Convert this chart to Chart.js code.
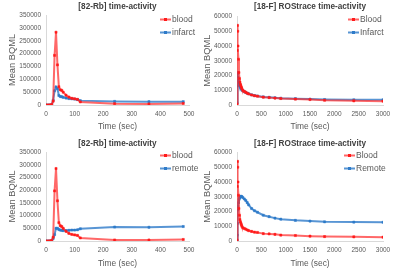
<!DOCTYPE html>
<html>
<head>
  <meta charset="utf-8">
  <title>Time-activity curves</title>
  <script src="https://cdn.jsdelivr.net/npm/chart.js"></script>
  <style>
    body { margin: 0; background: #FFF; }
    .panel { position: absolute; width: 200px; height: 137px; }
  </style>
</head>
<body>
  <div class="panel" style="left:0;top:0"><canvas id="rbInfarct" width="200" height="137"></canvas></div>
  <div class="panel" style="left:200px;top:0"><canvas id="fInfarctChart" width="200" height="137"></canvas></div>
  <div class="panel" style="left:0;top:137px"><canvas id="rbRemote" width="200" height="137"></canvas></div>
  <div class="panel" style="left:200px;top:137px"><canvas id="fRemoteChart" width="200" height="137"></canvas></div>

  <script>
    // [82-Rb] frames (sec)
    const rbTime = [0, 5, 10, 15, 20, 25, 30, 35, 40, 45, 50, 55, 60, 70, 80, 90, 100, 110, 120, 240, 360, 480];
    const rbBloodA = [0, 0, 0, 0, 2000, 15000, 193000, 283000, 156000, 71000, 59000, 57000, 50000, 38000, 31000, 26000, 24000, 22000, 12000, 5000, 4000, 6000];
    const rbInfarct = [0, 0, 0, 0, 1000, 18000, 55000, 70000, 63000, 37000, 33000, 32000, 30000, 27000, 25000, 24000, 23000, 21000, 17000, 14000, 13000, 13000];
    const rbBloodB = [0, 0, 0, 0, 2000, 15000, 197000, 285000, 158000, 72000, 60000, 57000, 50000, 38000, 30000, 26000, 24000, 22000, 12000, 4000, 4000, 6000];
    const rbRemote = [0, 0, 0, 0, 1000, 10000, 25000, 50000, 50000, 45000, 43000, 42000, 41000, 41000, 42000, 43000, 43000, 44000, 48000, 55000, 54000, 57000];

    // [18-F] ROStrace frames (sec)
    const fTime = [0, 5, 10, 15, 20, 30, 40, 50, 60, 70, 80, 90, 100, 120, 150, 180, 210, 240, 300, 360, 420, 540, 660, 780, 900, 1200, 1500, 1800, 2400, 3000];
    const fBloodA = [500, 37000, 54000, 50000, 40000, 31000, 22000, 18000, 15500, 14000, 13000, 12000, 11000, 10000, 9200, 8600, 8000, 7500, 6800, 6300, 6000, 5300, 5000, 4700, 4400, 4000, 3700, 3200, 2800, 2600];
    const fInfarct = [1500, 13000, 21000, 22000, 19000, 16500, 15000, 14000, 13000, 12200, 11500, 11000, 10500, 9800, 9000, 8500, 8000, 7600, 6900, 6400, 6100, 5500, 5200, 4900, 4600, 4300, 4000, 3700, 3500, 3500];
    const fBloodB = [500, 37000, 54000, 50000, 40000, 31000, 22000, 17500, 14500, 13000, 12000, 11000, 10000, 9000, 8500, 8000, 7500, 7000, 6500, 6000, 5800, 5000, 4800, 4500, 4000, 3700, 3300, 3000, 2800, 2600];
    const fRemote = [500, 4000, 12000, 21000, 23500, 26000, 28000, 29000, 29800, 30000, 30300, 30200, 30000, 29500, 28500, 27500, 26000, 24500, 22000, 20500, 19500, 17500, 16500, 15500, 14800, 14000, 13500, 13000, 12800, 12700];

    const RED = '#FF1A1A';
    const RED_LINE = 'rgba(255, 40, 40, 0.7)';
    const BLUE = '#2E7BC9';
    const BLUE_LINE = 'rgba(46, 123, 201, 0.8)';
    const FONT = '"Liberation Sans", Arial, sans-serif';

    // title centred over the plot + small legend inside the plot
    const panelText = {
      id: 'panelText',
      afterDraw(chart, args, o) {
        const { ctx, chartArea } = chart;
        ctx.save();
        ctx.font = 'bold 8.2px ' + FONT;
        ctx.fillStyle = '#404040';
        ctx.textAlign = 'center';
        ctx.textBaseline = 'middle';
        ctx.fillText(o.title, (chartArea.left + chartArea.right) / 2, 7);

        chart.data.datasets.forEach((ds, i) => {
          const y = o.legendY + i * 13;
          ctx.strokeStyle = ds.borderColor;
          ctx.lineWidth = 2;
          ctx.beginPath();
          ctx.moveTo(o.legendX - 12, y);
          ctx.lineTo(o.legendX - 1, y);
          ctx.stroke();
          ctx.fillStyle = ds.pointBackgroundColor;
          ctx.fillRect(o.legendX - 8, y - 1.5, 3, 3);
          ctx.fillStyle = '#595959';
          ctx.textAlign = 'left';
          ctx.font = '8.5px ' + FONT;
          ctx.fillText(ds.label, o.legendX, y);
        });
        ctx.restore();
      }
    };

    function series(label, xs, ys, color, lineColor) {
      return {
        label: label,
        data: xs.map((x, i) => ({ x: x, y: ys[i] })),
        borderColor: lineColor,
        backgroundColor: color,
        pointBackgroundColor: color,
        pointBorderColor: color,
        pointStyle: 'rect',
        pointRadius: 1.5,
        pointBorderWidth: 0.5,
        borderWidth: 2,
        tension: 0
      };
    }

    function makeChart(id, cfg) {
      new Chart(document.getElementById(id), {
        type: 'line',
        data: { datasets: cfg.datasets },
        options: {
          responsive: false,
          animation: false,
          layout: { padding: { top: cfg.top, right: 200 - cfg.right, left: 0, bottom: 0 } },
          plugins: {
            legend: { display: false },
            tooltip: { enabled: false },
            panelText: { title: cfg.title, legendX: cfg.legendX, legendY: cfg.legendY }
          },
          scales: {
            x: {
              type: 'linear',
              min: 0,
              max: cfg.xMax,
              ticks: { stepSize: cfg.xStep, font: { family: FONT, size: 6.5 }, color: '#595959', padding: 5, callback: (v) => String(v) },
              grid: { display: false, drawTicks: false },
              border: { display: true, color: '#D9D9D9' },
              title: { display: true, text: 'Time (sec)', color: '#595959', font: { family: FONT, size: 8.4 }, padding: { top: 0, bottom: 5.5 } },
              afterFit: (s) => { s.height = 137 - cfg.bottom; }
            },
            y: {
              min: 0,
              max: cfg.yMax,
              ticks: { stepSize: cfg.yStep, font: { family: FONT, size: 6.5 }, color: '#595959', padding: 5, callback: (v) => String(v) },
              grid: { display: false, drawTicks: false },
              border: { display: true, color: '#D9D9D9' },
              title: { display: true, text: 'Mean BQML', color: '#595959', font: { family: FONT, size: 9.3 }, padding: { top: cfg.yTitlePad, bottom: 0 } },
              afterFit: (s) => { s.width = cfg.left; }
            }
          }
        },
        plugins: [panelText]
      });
    }

    makeChart('rbInfarct', {
      title: '[82-Rb] time-activity',
      datasets: [series('blood', rbTime, rbBloodA, RED, RED_LINE), series('infarct', rbTime, rbInfarct, BLUE, BLUE_LINE)],
      left: 46, right: 189, top: 15, bottom: 105,
      xMax: 500, xStep: 100, yMax: 350000, yStep: 50000,
      yTitlePad: 7, legendX: 172, legendY: 19.5
    });

    makeChart('fInfarctChart', {
      title: '[18-F] ROStrace time-activity',
      datasets: [series('Blood', fTime, fBloodA, RED, RED_LINE), series('Infarct', fTime, fInfarct, BLUE, BLUE_LINE)],
      left: 37, right: 183, top: 16.5, bottom: 105,
      xMax: 3000, xStep: 500, yMax: 60000, yStep: 10000,
      yTitlePad: 1.5, legendX: 160, legendY: 19.5
    });

    makeChart('rbRemote', {
      title: '[82-Rb] time-activity',
      datasets: [series('blood', rbTime, rbBloodB, RED, RED_LINE), series('remote', rbTime, rbRemote, BLUE, BLUE_LINE)],
      left: 46, right: 189, top: 15, bottom: 104,
      xMax: 500, xStep: 100, yMax: 350000, yStep: 50000,
      yTitlePad: 7, legendX: 172, legendY: 18.5
    });

    makeChart('fRemoteChart', {
      title: '[18-F] ROStrace time-activity',
      datasets: [series('Blood', fTime, fBloodB, RED, RED_LINE), series('Remote', fTime, fRemote, BLUE, BLUE_LINE)],
      left: 37, right: 183, top: 15.5, bottom: 104,
      xMax: 3000, xStep: 500, yMax: 60000, yStep: 10000,
      yTitlePad: 1.5, legendX: 156, legendY: 18.5
    });
  </script>
</body>
</html>
